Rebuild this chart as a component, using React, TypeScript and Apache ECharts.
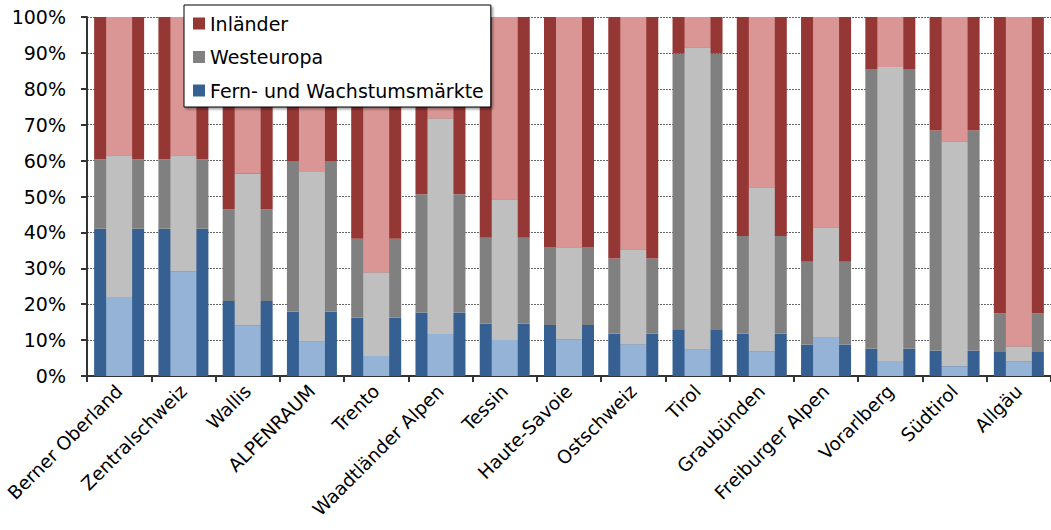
import React, { useEffect, useRef } from "react";
import * as echarts from "echarts";

const categories = [
  "Berner Oberland", "Zentralschweiz", "Wallis", "ALPENRAUM", "Trento",
  "Waadtländer Alpen", "Tessin", "Haute-Savoie", "Ostschweiz", "Tirol",
  "Graubünden", "Freiburger Alpen", "Vorarlberg", "Südtirol", "Allgäu",
];

// Wide (dark) bars – shares
const darkFern = [41.0, 41.0, 20.9, 17.9, 16.3, 17.7, 14.6, 14.2, 11.8, 12.8, 11.8, 8.8, 7.6, 7.1, 6.7];
const darkWest = [19.4, 19.4, 25.5, 42.0, 21.9, 32.9, 23.9, 21.7, 20.9, 77.0, 27.2, 23.0, 77.9, 61.3, 10.7];
const darkInl = [39.6, 39.6, 53.6, 40.1, 61.8, 49.4, 61.5, 64.1, 67.3, 10.2, 61.0, 68.2, 14.5, 31.6, 82.6];

// Narrow (light) bars
const lightFern = [22.0, 29.2, 14.1, 9.7, 5.6, 11.7, 10.0, 10.2, 8.8, 7.3, 6.9, 10.8, 4.2, 2.7, 4.1];
const lightWest = [39.5, 32.3, 42.3, 47.1, 23.2, 60.1, 39.2, 25.6, 26.5, 84.3, 45.7, 30.6, 81.9, 62.6, 4.1];
const lightInl = [38.5, 38.5, 43.6, 43.2, 71.2, 28.2, 50.8, 64.2, 64.7, 8.4, 47.4, 58.6, 13.9, 34.7, 91.8];

const FONT = "DejaVu Sans";

export default function App() {
  const ref = useRef<HTMLDivElement>(null);
  useEffect(() => {
    if (!ref.current) return;
    const chart = echarts.init(ref.current, undefined, { renderer: "svg" });
    const darkBar = (name: string, data: number[], color: string) => ({
      name,
      type: "bar",
      stack: "dark",
      xAxisIndex: 0,
      barWidth: 50,
      data,
      z: 2,
      itemStyle: { color },
    });
    const lightBar = (name: string, data: number[], color: string) => ({
      name,
      type: "bar",
      stack: "light",
      xAxisIndex: 1,
      barWidth: 26,
      data,
      z: 3,
      itemStyle: { color },
    });
    chart.setOption({
      animation: false,
      textStyle: { fontFamily: FONT },
      grid: { left: 87, right: -3, top: 17, bottom: 154, containLabel: false },
      legend: {
        data: ["Inländer", "Westeuropa", "Fern- und Wachstumsmärkte"],
        orient: "vertical",
        left: 184,
        top: 5,
        padding: [9, 7, 7, 9],
        itemGap: 14.5,
        itemWidth: 12,
        itemHeight: 12,
        itemTextGap: 5,
        icon: "rect",
        selectedMode: false,
        backgroundColor: "#fff",
        borderColor: "#000",
        borderWidth: 1,
        borderRadius: 0,
        shadowColor: "rgba(0,0,0,0.35)",
        shadowOffsetX: 2,
        shadowOffsetY: 2,
        shadowBlur: 2,
        textStyle: { fontFamily: FONT, fontSize: 19, color: "#000" },
      },
      xAxis: [
        {
          type: "category",
          data: categories,
          axisLine: { lineStyle: { color: "#333", width: 2 } },
          axisTick: { show: true, length: 6, lineStyle: { color: "#333", width: 2 } },
          axisLabel: { rotate: 45, fontFamily: FONT, fontSize: 18.5, color: "#000", margin: 12, interval: 0 },
        },
        {
          type: "category",
          data: categories,
          position: "bottom",
          show: false,
        },
      ],
      yAxis: {
        type: "value",
        min: 0,
        max: 100,
        interval: 10,
        axisLine: { show: true, lineStyle: { color: "#333", width: 2 } },
        axisTick: { show: true, length: 6, lineStyle: { color: "#333", width: 2 } },
        axisLabel: { formatter: "{value}%", fontFamily: FONT, fontSize: 19, color: "#000", margin: 21 },
        splitLine: { show: true, lineStyle: { color: "#666", type: [2, 1], width: 1 } },
      },
      series: [
        darkBar("Fern- und Wachstumsmärkte", darkFern, "#376092"),
        darkBar("Westeuropa", darkWest, "#808080"),
        darkBar("Inländer", darkInl, "#953735"),
        lightBar("Fern (hell)", lightFern, "#95B3D7"),
        lightBar("Westeuropa (hell)", lightWest, "#BFBFBF"),
        lightBar("Inländer (hell)", lightInl, "#DA9694"),
      ],
    });
    return () => chart.dispose();
  }, []);
  return (
    <div
      ref={ref}
      style={{ position: "absolute", left: 0, top: 0, width: 1051, height: 530, background: "#fff" }}
    />
  );
}
